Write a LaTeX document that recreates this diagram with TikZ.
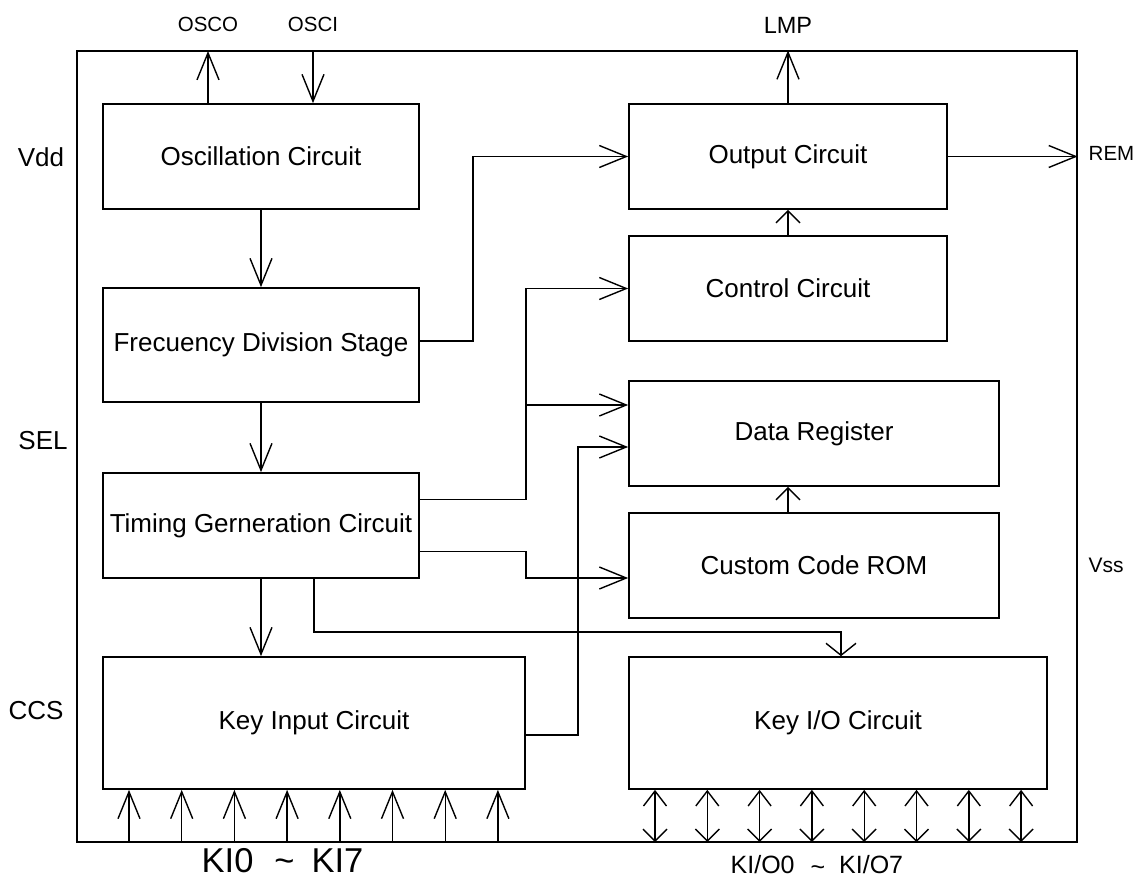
\documentclass[tikz,border=0pt]{standalone}
\usepackage{fontspec}
\setmainfont{Liberation Sans}
\usetikzlibrary{arrows.meta}

\tikzset{block/.style={draw, rectangle, line width=1.7pt, inner sep=0pt,
                       font=\fontsize{26}{31}\selectfont},
         longtip/.style={-{Straight Barb[length=27pt,width=22pt]}},
         shorttip/.style={-{Straight Barb[length=12pt,width=24pt]}},
         bothtip/.style={{Straight Barb[length=12pt,width=24pt]}-{Straight Barb[length=15pt,width=23pt]}}}

\begin{document}
\begin{tikzpicture}[
    x = 1pt, y = -1pt, line width = 1.4pt,
    every node/.style = {inner sep = 0pt},
    sidelabel/.style = {font = \fontsize{26}{31}\selectfont},
    pinname/.style = {font = \fontsize{20.5}{25}\selectfont}
  ]
  \useasboundingbox (0,0) rectangle (1141,881);
  % chip outline
  \node[draw, line width = 1.2pt, minimum width = 1000pt, minimum height = 791pt]
    (chip) at (577,446.5) {};

  % left column
  \node[block, minimum width = 316pt, minimum height = 105pt] (osc) at (261,156.5) {Oscillation Circuit};
  \node[block, minimum width = 316pt, minimum height = 114pt] (freq) at (261,345) {Frecuency Division Stage};
  \node[block, minimum width = 316pt, minimum height = 105pt] (timing) at (261,525.5) {Timing Gerneration Circuit};
  \node[block, minimum width = 422pt, minimum height = 132pt] (keyin) at (314,723) {Key Input Circuit};

  % right column
  \node[block, minimum width = 318pt, minimum height = 105pt] (output) at (788,156.5) {Output Circuit};
  \node[block, minimum width = 318pt, minimum height = 105pt] (control) at (788,288.5) {Control Circuit};
  \node[block, minimum width = 370pt, minimum height = 105pt] (datareg) at (814,433.5) {Data Register};
  \node[block, minimum width = 370pt, minimum height = 105pt] (rom) at (814,565.5) {Custom Code ROM};
  \node[block, minimum width = 418pt, minimum height = 132pt] (keyio) at (838,723) {Key I/O Circuit};

  % pins
  \node[pinname] (oscolabel) at (208,24) {OSCO};
  \node[pinname] (oscilabel) at (313,24) {OSCI};
  \node[font = \fontsize{23.5}{28}\selectfont] (lmplabel) at (788,25) {LMP};
  \node[pinname, anchor = west] (remlabel) at (1088,153) {REM};
  \node[sidelabel] (vdd) at (41,157) {Vdd};
  \node[sidelabel] (sel) at (43,441) {SEL};
  \node[sidelabel] (ccs) at (36,711) {CCS};
  \node[font = \fontsize{21}{25}\selectfont, anchor = west] (vss) at (1088,565) {Vss};
  \node[font = \fontsize{34.5}{40}\selectfont, anchor = base west] (kilabel) at (201,872)
    {KI0\hspace{21pt}\textasciitilde\hspace{17pt}KI7};
  \node[font = \fontsize{25}{30}\selectfont, anchor = base west] (kiolabel) at (730,873)
    {KI/O0\hspace{16pt}\raisebox{-2pt}{\textasciitilde}\hspace{14pt}KI/O7};

  % oscillator pins and outputs
  \coordinate (osco) at (208,51);
  \coordinate (osci) at (313,51);
  \draw[longtip] (osco |- osc.north) -- (osco);
  \draw[longtip] (osci) -- (osci |- osc.north);
  \draw[longtip] (output.north) -- (output.north |- chip.north);
  \draw[longtip] (output.east) -- (output.east -| chip.east);

  % main chain
  \draw[longtip] (osc.south) -- (freq.north);
  \draw[longtip] (freq.south) -- (timing.north);
  \draw[longtip] (timing.south) -- (timing.south |- keyin.north);
  \draw[shorttip] (control.north) -- (output.south);
  \draw[shorttip] ([xshift=-26pt]rom.north) -- ([xshift=-26pt]datareg.south);

  % buses
  \draw[longtip] ([yshift=4pt]freq.east) -- ++(53,0) |- (output.west);
  \draw[longtip] ([yshift=26pt]timing.east) -- ++(106,0) |- (control.west);
  \coordinate (tap) at (525,405);
  \draw[longtip] (tap) -- (tap -| datareg.west);
  \draw[longtip] ([yshift=-26pt]timing.east) -- ++(106,0) |- ([yshift=-12.5pt]rom.west);
  \draw[longtip] ([yshift=-12pt]keyin.east) -- ++(52,0) |- ([yshift=-13.5pt]datareg.west);
  \draw[{Straight Barb[length=12pt,width=30pt]}-]
    ([xshift=3pt]keyio.north) |- ([xshift=53pt,yshift=-53pt]timing.south) -- ([xshift=53pt]timing.south);

  % key lines
  \foreach \i in {0,...,7} {
    \coordinate (ki\i) at (129+52.7*\i,842);
    \draw[longtip] (ki\i) -- (ki\i |- keyin.south);
    \coordinate (kio\i) at (655+52.3*\i,842);
    \draw[bothtip] (kio\i) -- (kio\i |- keyio.south);
  }
\end{tikzpicture}
\end{document}
